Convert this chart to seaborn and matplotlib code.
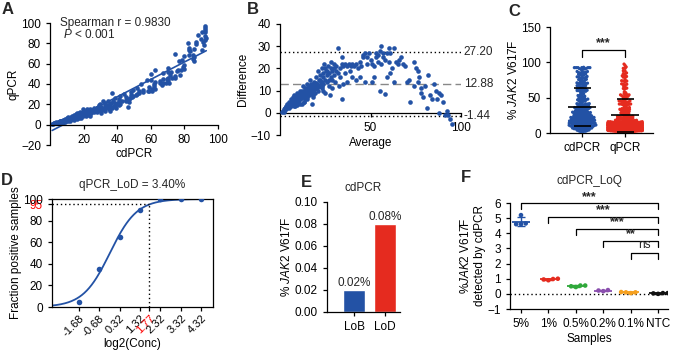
import matplotlib
matplotlib.use("Agg")
import matplotlib.pyplot as plt
import numpy as np
import pandas as pd
import seaborn as sns

blue = "#2352a5"
red = "#e52b1f"
loq_colors = ["#2352a5", "#e52b1f", "#2fa83a", "#8a4fae", "#f5a01f", "#111111"]

# paired measurements, % JAK2 V617F (panels A, B, C)
cdpcr = [1.3, 2.5, 3.5, 3.8, 5, 5.3, 6, 6.5, 7.5, 7.5, 9, 7.5, 9, 10.5, 9, 10.5, 12, 10.5, 10, 12.5,
         12, 14, 12.5, 14,
         14, 16, 14, 15.5, 14, 16.5, 18.5, 16.5, 18, 17.5, 19.5, 17, 19, 21.5, 18.5, 20.5, 22, 20, 24, 21.5,
         22.5, 19.5, 24.5, 23, 22, 25, 26, 24, 25.5, 28,
         27, 26, 30.5, 29, 28, 30.5, 29.5, 33, 28.5, 31.5, 30.5, 33, 35.5, 32.5, 29.5, 35, 34.5, 33, 37, 33,
         36, 31.5, 38, 36, 38.5, 34.5, 41, 38.5,
         37.5, 40.5, 41.5, 41, 46.5, 38.5, 43, 41, 45, 37, 47, 45.5, 41.5, 47, 45, 47.5, 44, 49, 48, 49.5,
         51, 48,
         51.5, 49.5, 53, 53, 52, 55.5, 55.5, 58.5, 59, 60.5, 54, 59, 60.5, 62.5, 62,
         62, 58, 62.5, 60, 65.5, 66.5, 67, 65.5, 69, 60, 71, 67, 70.5, 69.5, 70, 62.3, 72.5, 67, 71.5, 74.5,
         74.5, 70, 72, 77.5, 70,
         75.5, 76, 78, 79.5, 79, 79.5, 77, 78.5, 74.5, 85.5, 80, 85, 83, 85.5, 85, 82.5, 83.5, 82.5, 86, 82,
         90.5, 87, 87, 91.5,
         91, 90, 92.5, 88, 93, 92.5, 90.5, 92.5, 92.5, 92.5, 92.5,
         2, 2.3, 4.3, 6.3, 6, 8.3, 9.8, 11.3, 11, 13.3, 15.3, 17, 15.5, 18.8, 20.5, 21, 23.5, 22, 24.3, 26.8,
         27, 29.5, 30, 29, 35, 35.5, 34.5, 39.5, 36.5, 40,
         3, 4, 5, 5.5, 6, 7, 7, 8, 8.5, 9, 9.5, 10, 10.5, 11, 11.5, 12, 12.5, 13, 13.5, 14,
         14.5, 15, 15.5, 16, 16.5, 17, 17.5, 18, 18.5, 19, 19.5, 20, 20.5, 21, 21.5, 22, 22.5, 23, 23.5, 24,
         25, 26, 27, 28, 29, 13, 16, 18, 11, 9]
qpcr = [0.8, 1.5, 1.5, 2.3, 2, 2.8, 2, 3.5, 2.5, 3.5, 3, 4.5, 4, 3.5, 5, 4.5, 4, 5.5, 7, 5.5,
        6, 5, 7.5, 6,
        7, 6, 8, 7.5, 10, 7.5, 6.5, 9.5, 8, 9.5, 8.5, 11, 10, 8.5, 11.5, 10.5, 10, 12, 9, 12.5,
        11.5, 15.5, 11.5, 13, 15, 13, 12, 15, 14.5, 12,
        14, 16, 11.5, 14, 16, 13.5, 15.5, 13, 17.5, 15.5, 17.5, 15, 13.5, 17.5, 20.5, 16, 17.5, 19, 16, 21,
        18, 23.5, 18, 20, 19.5, 23.5, 19, 21.5,
        23.5, 21.5, 20.5, 23, 17.5, 26.5, 23, 25, 23, 31, 22, 24.5, 28.5, 25, 27, 26.5, 30, 27, 29, 28.5,
        29, 32,
        30.5, 34.5, 31, 33, 36, 32.5, 34.5, 33.5, 33, 33.5, 40, 37, 35.5, 35.5, 38,
        40, 44, 41.5, 44, 40.5, 39.5, 41, 42.5, 41, 50, 41, 45, 43.5, 44.5, 46, 53.8, 45.5, 51, 48.5, 45.5,
        47.5, 52, 52, 48.5, 56,
        52.5, 54, 54, 54.5, 57, 58.5, 63, 63.5, 69.5, 62.5, 68, 65, 69, 66.5, 69, 73.5, 72.5, 75.5, 74, 80,
        73.5, 79, 81, 78.5,
        81, 84, 83.5, 88, 85, 87.5, 91.5, 91.5, 93.5, 95.5, 97.5,
        1, 1.8, 1.8, 2.8, 4, 3.8, 4.3, 4.8, 7, 6.8, 6.8, 7, 10.5, 9.3, 9.5, 11, 10.5, 14, 13.8, 13.3,
        15, 14.5, 16, 19, 15, 16.5, 19.5, 16.5, 21.5, 20,
        1.5, 2, 2.5, 3, 3.5, 3, 4, 4, 4.5, 4, 5, 5, 6, 5, 6.5, 5.5, 7, 6, 7.5, 8,
        7, 8.5, 8, 9, 8.5, 9.5, 10, 9, 10.5, 11, 10, 11.5, 12, 12.5, 11, 13, 12.5, 14, 12, 13.5,
        14, 15, 14.5, 16, 17, 9, 11, 12, 7.5, 6]
assert len(cdpcr) == len(qpcr)

# Bland-Altman bias and limits of agreement (panel B)
ba_bias = 12.88
ba_upper = 27.20
ba_lower = -1.44

# probit / LoD data (panel D)
lod_conc = [-1.68, -0.68, 0.32, 1.32, 2.32, 3.32, 4.32]
lod_frac = [5, 35, 65, 90, 100, 100, 100]
lod_x = 1.77
lod_y = 95

# LoB / LoD (panel E)
lob_names = ["LoB", "LoD"]
lob_values = [0.02, 0.08]

# LoQ replicates (panel F)
loq_samples = ["5%", "1%", "0.5%", "0.2%", "0.1%", "NTC"]
loq_5 = [5.2, 4.65, 4.6, 4.6]
loq_1 = [0.9, 0.95, 0.98, 1.0]
loq_05 = [0.45, 0.5, 0.55, 0.55]
loq_02 = [0.18, 0.22, 0.25]
loq_01 = [0.05, 0.1, 0.1, 0.12]
loq_ntc = [0.0, 0.03, 0.05, 0.05]
loq_sig = ["***", "***", "***", "**", "ns"]

sns.set_style("ticks")
plt.rcParams["font.family"] = ["Liberation Sans", "DejaVu Sans"]
plt.rcParams["mathtext.fontset"] = "custom"
plt.rcParams["mathtext.rm"] = "Liberation Sans"
plt.rcParams["mathtext.it"] = "Liberation Sans:italic"
plt.rcParams["font.size"] = 8.5
plt.rcParams["axes.labelsize"] = 8.5
plt.rcParams["xtick.labelsize"] = 8.5
plt.rcParams["ytick.labelsize"] = 8.5
plt.rcParams["axes.linewidth"] = 0.9
plt.rcParams["xtick.major.width"] = 0.9
plt.rcParams["ytick.major.width"] = 0.9
plt.rcParams["xtick.major.size"] = 3
plt.rcParams["ytick.major.size"] = 3
plt.rcParams["axes.edgecolor"] = "black"
plt.rcParams["xtick.color"] = "black"
plt.rcParams["ytick.color"] = "black"
plt.rcParams["axes.labelcolor"] = "black"

W, H = 677, 350
fig = plt.figure(figsize=(W / 100, H / 100), dpi=100)


def box(l, t, r, b):
    return fig.add_axes([l / W, 1 - b / H, (r - l) / W, (b - t) / H])


def letter(x, y, s):
    fig.text(x / W, 1 - y / H, s, fontsize=12, fontweight="bold", va="top", ha="left")


dotted = (0, (1, 2))
jak2 = "% $\\mathit{JAK2}$ V617F"

# ---- A: correlation
pairs = pd.DataFrame({"cdPCR": cdpcr, "qPCR": qpcr})
ax = box(50, 23, 218, 145)
sns.scatterplot(data=pairs, x="cdPCR", y="qPCR", color=blue, s=11, linewidth=0, ax=ax)
sns.regplot(data=pairs, x="cdPCR", y="qPCR", scatter=False, ci=None, color=blue,
            line_kws={"lw": 1.2}, ax=ax)
ax.set_xlim(0, 100)
ax.set_ylim(-20, 100)
sns.despine(ax=ax)
ax.spines["bottom"].set_position(("data", 0))
ax.set_xticks([20, 40, 60, 80, 100])
ax.set_yticks(range(-20, 101, 20))
ax.set_xlabel("cdPCR", labelpad=2)
ax.set_ylabel("qPCR", labelpad=1)
fig.text(60 / W, 1 - 23 / H, "Spearman r = 0.9830", va="center", fontsize=8.5)
fig.text(63 / W, 1 - 35 / H, "$\\mathit{P}$ < 0.001", va="center", fontsize=8.5)
letter(2, 2, "A")

# ---- B: Bland-Altman
pairs["Average"] = (pairs["cdPCR"] + pairs["qPCR"]) / 2
pairs["Difference"] = pairs["cdPCR"] - pairs["qPCR"]
ax = box(280, 24, 461, 135)
sns.scatterplot(data=pairs, x="Average", y="Difference", color=blue, s=11, linewidth=0, ax=ax, zorder=3)
ax.axhline(ba_upper, color="black", ls=dotted, lw=1)
ax.axhline(ba_bias, color="#888888", ls=(0, (6, 3)), lw=1)
ax.axhline(ba_lower, color="black", ls=dotted, lw=1)
for v in [ba_upper, ba_bias, ba_lower]:
    ax.text(101.5, v, f"{v:.2f}", va="center", ha="left", clip_on=False)
ax.set_xlim(0, 100)
ax.set_ylim(-10, 40)
sns.despine(ax=ax)
ax.spines["bottom"].set_position(("data", 0))
ax.set_xticks([50, 100])
ax.set_yticks(range(-10, 41, 10))
ax.set_xlabel("Average", labelpad=2)
ax.set_ylabel("Difference", labelpad=1)
letter(247, 2, "B")

# ---- C: scatter dot plot
# lay the swarm out with small markers, then redraw the same points with bigger,
# overlapping dots (closer to the Prism look)
long = pd.DataFrame({"method": ["cdPCR"] * len(cdpcr) + ["qPCR"] * len(qpcr),
                     "value": cdpcr + qpcr})
ax = box(550, 27, 653, 133)
ax.set_xlim(-0.75, 1.65)
ax.set_ylim(0, 150)
sns.swarmplot(data=long, x="method", y="value", hue="method", palette=[blue, red],
              size=1.25, legend=False, ax=ax, warn_thresh=1)
ax.set_xlim(-0.75, 1.65)
ax.set_ylim(0, 150)
fig.canvas.draw()
for coll in list(ax.collections):
    offs = np.array(coll.get_offsets())
    fc = coll.get_facecolors()
    coll.remove()
    ax.scatter(offs[:, 0], offs[:, 1], s=5.5, color=fc, linewidths=0, zorder=3)
for i, vals in enumerate([cdpcr, qpcr]):
    m = np.mean(vals)
    sd = np.std(vals, ddof=1)
    ax.hlines(m, i - 0.33, i + 0.33, color="black", lw=1.2, zorder=5)
    ax.hlines([m - sd, m + sd], i - 0.2, i + 0.2, color="black", lw=1.2, zorder=5)
ax.plot([0, 0, 1, 1], [108, 117, 117, 108], color="black", lw=0.9, clip_on=False)
ax.text(0.5, 118, "***", ha="center", va="bottom", fontsize=9, fontweight="bold")
ax.set_xlim(-0.75, 1.65)
ax.set_ylim(0, 150)
ax.set_yticks([0, 50, 100, 150])
sns.despine(ax=ax)
ax.set_xlabel("")
ax.set_ylabel(jak2, labelpad=1)
letter(508, 4, "C")

# ---- D: probit LoD
ax = box(52, 199, 213, 307)
xs = np.array(lod_conc)
ys = np.array(lod_frac)
best = None
for x0 in np.linspace(-1.0, 1.0, 201):
    for s in np.linspace(0.2, 1.5, 131):
        err = np.sum((100 / (1 + np.exp(-(xs - x0) / s)) - ys) ** 2)
        if best is None or err < best[0]:
            best = (err, x0, s)
_, x0, s = best
grid = np.linspace(-3.0, 4.9, 200)
fit = pd.DataFrame({"x": grid, "y": 100 / (1 + np.exp(-(grid - x0) / s))})
sns.lineplot(data=fit, x="x", y="y", color=blue, lw=1.3, ax=ax)
sns.scatterplot(x=lod_conc, y=lod_frac, color=blue, s=16, linewidth=0, ax=ax, zorder=4)
ax.plot([-3.0, lod_x], [lod_y, lod_y], color="black", ls=dotted, lw=1)
ax.plot([lod_x, lod_x], [0, lod_y], color="black", ls=dotted, lw=1)
ax.set_xlim(-3.0, 4.9)
ax.set_ylim(0, 100)
xt = lod_conc[:4] + [lod_x] + lod_conc[4:]
ax.set_xticks(xt)
ax.set_xticklabels([f"{v:.2f}" for v in xt], rotation=45, ha="right", rotation_mode="anchor",
                   fontsize=8)
ax.tick_params(axis="x", pad=1.5)
yt = [0, 20, 40, 60, 80, lod_y, 100]
ax.set_yticks(yt)
ax.set_yticklabels([str(v) for v in yt])
ax.get_xticklabels()[4].set_color("red")
ax.xaxis.get_major_ticks()[4].tick1line.set_color("red")
ax.get_yticklabels()[5].set_color("red")
ax.yaxis.get_major_ticks()[5].tick1line.set_color("red")
ax.set_title("qPCR_LoD = 3.40%", fontsize=8.5, pad=8)
ax.set_xlabel("log2(Conc)")
ax.xaxis.set_label_coords(0.5, -0.285)
ax.set_ylabel("Fraction positive samples", labelpad=1)
letter(1, 173, "D")

# ---- E: LoB / LoD
ax = box(327, 202, 400, 312)
sns.barplot(x=lob_names, y=lob_values, hue=lob_names, palette=[blue, red], width=0.71,
            saturation=1, legend=False, ax=ax)
for i, v in enumerate(lob_values):
    ax.text(i, v + 0.001, f"{v:.2f}%", ha="center", va="bottom")
ax.set_xlim(-0.87, 1.48)
ax.set_ylim(0, 0.1)
ax.set_yticks(np.arange(0, 0.101, 0.02))
ax.set_yticklabels([f"{v:.2f}" for v in np.arange(0, 0.101, 0.02)])
sns.despine(ax=ax)
ax.set_title("cdPCR", fontsize=8.5, pad=8)
ax.set_ylabel(jak2, labelpad=1)
letter(301, 175, "E")

# ---- F: LoQ
loq_groups = [loq_5, loq_1, loq_05, loq_02, loq_01, loq_ntc]
loq = pd.DataFrame({"sample": [n for n, g in zip(loq_samples, loq_groups) for _ in g],
                    "value": [v for g in loq_groups for v in g]})
ax = box(510, 203, 668, 309)
ax.axhline(0, color="black", ls=dotted, lw=1, zorder=1)
sns.swarmplot(data=loq, x="sample", y="value", hue="sample", palette=loq_colors,
              size=3.3, legend=False, ax=ax, zorder=3)
for i, (g, c) in enumerate(zip(loq_groups, loq_colors)):
    m = np.mean(g)
    sd = np.std(g, ddof=1)
    ax.hlines(m, i - 0.32, i + 0.32, color=c, lw=1.3, zorder=4)
    ax.errorbar(i, m, yerr=sd, color=c, capsize=3, lw=1, capthick=1, zorder=4)
for i, (lab, h) in enumerate(zip(loq_sig, [6.0, 5.1, 4.3, 3.5, 2.7])):
    ax.plot([i, i, 5, 5], [h - 0.4, h, h, h - 0.4], color="black", lw=0.9, clip_on=False)
    if lab == "ns":
        ax.text((i + 5) / 2, h + 0.1, lab, ha="center", va="bottom", fontsize=8.5)
    else:
        ax.text((i + 5) / 2, h + 0.02, lab, ha="center", va="bottom", fontsize=9, fontweight="bold")
ax.set_xlim(-0.4, 5.36)
ax.set_ylim(-1, 6)
ax.set_yticks(range(-1, 7))
sns.despine(ax=ax)
ax.set_title("cdPCR_LoQ", fontsize=8.5, pad=14)
ax.set_xlabel("Samples", labelpad=2)
ax.set_ylabel("%$\\mathit{JAK2}$ V617F\ndetected by cdPCR", labelpad=1)
letter(461, 170, "F")

fig.savefig("out.png", dpi=100)
